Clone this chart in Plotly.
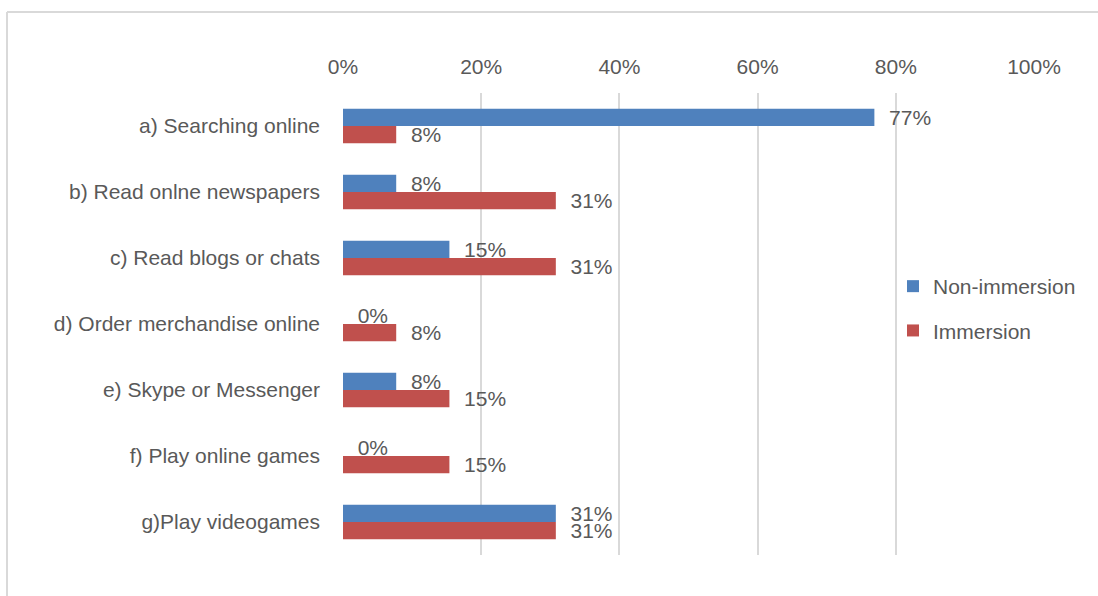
import plotly.graph_objects as go

categories = ["a) Searching online", "b) Read onlne newspapers", "c) Read blogs or chats",
              "d) Order merchandise online", "e) Skype or Messenger", "f) Play online games",
              "g)Play videogames"]
non_immersion = [76.9, 7.7, 15.4, 0.0, 7.7, 0.0, 30.8]
immersion = [7.7, 30.8, 30.8, 7.7, 15.4, 15.4, 30.8]
tick_vals = [0, 20, 40, 60, 80, 100]
tick_text = ["0%", "20%", "40%", "60%", "80%", "100%"]

FONT = "Liberation Sans Narrow, Arial Narrow, Liberation Sans, sans-serif"
TXT = "#595959"

fig = go.Figure()
for name, vals, color, grp in [("Non-immersion", non_immersion, "#4F81BD", "g1"),
                               ("Immersion", immersion, "#C0504D", "g2")]:
    fig.add_trace(go.Bar(
        y=categories, x=vals, name=name, orientation="h",
        marker=dict(color=color, line=dict(width=0)),
        text=vals, texttemplate="\u00a0\u00a0%{x:.0f}%", textposition="outside",
        textfont=dict(family=FONT, size=21, color=TXT),
        constraintext="none", cliponaxis=False, legendgroup=grp,
    ))

l, r, t, b = 343, 64, 93, 41
W, H = 1098, 596
pw, ph = W - l - r, H - t - b

fig.update_layout(
    width=W, height=H, barmode="group", bargap=0.48, bargroupgap=0,
    margin=dict(l=l, r=r, t=t, b=b), plot_bgcolor="white", paper_bgcolor="white",
    font=dict(family=FONT, size=21, color=TXT),
    xaxis=dict(side="top", range=[0, 100], tickvals=tick_vals, ticktext=tick_text,
               showgrid=True, gridcolor="#D9D9D9", gridwidth=2, zeroline=False,
               showline=False, ticks="", ticklabelstandoff=14,
               tickfont=dict(family=FONT, size=21, color=TXT)),
    yaxis=dict(autorange="reversed", showgrid=False, zeroline=False, showline=False,
               ticks="", ticklabelstandoff=22,
               tickfont=dict(family=FONT, size=21, color=TXT)),
    legend=dict(x=(893 - l) / pw, y=(555 - 266) / ph, xanchor="left", yanchor="top",
                traceorder="grouped", tracegroupgap=14, bgcolor="rgba(0,0,0,0)",
                font=dict(family=FONT, size=21, color=TXT), itemwidth=30),
    shapes=[
        dict(type="line", xref="paper", yref="paper", x0=(7 - l) / pw, x1=(W + 5 - l) / pw,
             y0=(H - b - 12) / ph, y1=(H - b - 12) / ph, line=dict(color="#D9D9D9", width=2)),
        dict(type="line", xref="paper", yref="paper", x0=(7 - l) / pw, x1=(7 - l) / pw,
             y0=(H - b - 12) / ph, y1=-(b + 5) / ph, line=dict(color="#D9D9D9", width=2)),
    ],
)
fig.write_html("out.html")
